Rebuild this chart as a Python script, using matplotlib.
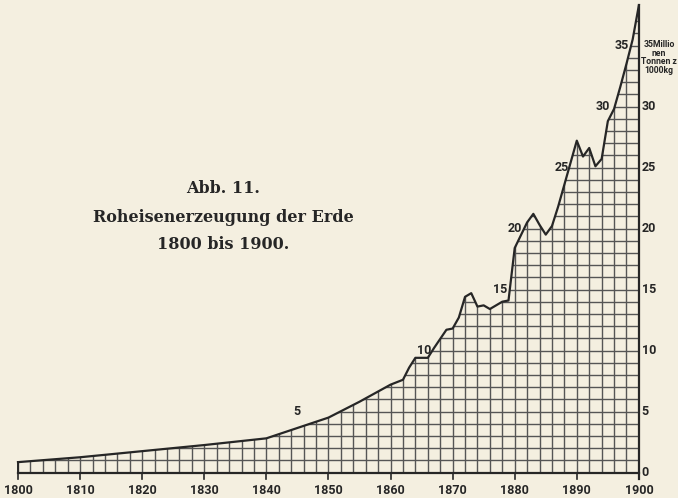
import numpy as np
import matplotlib.pyplot as plt
from matplotlib.patches import Polygon

# Roheisenerzeugung der Erde, Millionen Tonnen
years = [1800, 1810, 1820, 1830, 1840, 1850, 1855, 1860, 1862, 1863, 1864,
         1866, 1867, 1869, 1870, 1871, 1872, 1873, 1874, 1875, 1876, 1877,
         1878, 1879, 1880, 1882, 1883, 1884, 1885, 1886, 1887, 1888, 1889,
         1890, 1891, 1892, 1893, 1894, 1895, 1896, 1897, 1898, 1899, 1900]
output = [0.85, 1.25, 1.75, 2.25, 2.8, 4.5, 5.8, 7.2, 7.6, 8.6, 9.4,
          9.4, 10.2, 11.7, 11.8, 12.7, 14.4, 14.7, 13.6, 13.7, 13.4, 13.7,
          14.0, 14.1, 18.4, 20.5, 21.2, 20.3, 19.5, 20.2, 21.8, 23.6, 25.4,
          27.2, 25.9, 26.6, 25.1, 25.7, 28.8, 29.8, 31.6, 33.5, 35.5, 38.3]

decades = list(range(1800, 1901, 10))
scale_marks = [0, 5, 10, 15, 20, 25, 30]
curve_marks = [5, 10, 15, 20, 25, 30, 35]
curve_mark_years = [1845.0, 1865.5, 1877.6, 1880.0, 1887.6, 1894.2, 1897.3]
unit_note = '35Millio\nnen\nTonnen z\n1000kg'

paper = '#f4efe0'
ink = '#262626'
grid_ink = '#555555'
sans = ['Roboto', 'DejaVu Sans']

fig = plt.figure(figsize=(6.78, 4.98), dpi=100)
fig.patch.set_facecolor(paper)
ax = fig.add_axes([0, 0, 1, 1])
ax.set_facecolor(paper)
ax.set_xlim(1797.1, 1906.3)
ax.set_ylim(-2.09, 38.73)
ax.axis('off')

# area under the curve, used to clip the squared grid
outline = np.column_stack([[1800] + years + [1900], [0] + output + [0]])
area = Polygon(outline, closed=True, facecolor='none', edgecolor='none')
ax.add_patch(area)

for yr in range(1800, 1901, 2):
    ln, = ax.plot([yr, yr], [0, 45], color=grid_ink, lw=1.0)
    ln.set_clip_path(area)
for v in range(1, 45):
    ln, = ax.plot([1800, 1900], [v, v], color=grid_ink, lw=1.0)
    ln.set_clip_path(area)

ax.plot(years, output, color=ink, lw=1.6, solid_joinstyle='round')
ax.plot([1800, 1900], [0, 0], color=ink, lw=1.6)
ax.plot([1800, 1800], [0, output[0]], color=ink, lw=1.4)
ax.plot([1900, 1900], [-0.5, output[-1]], color=ink, lw=1.6)

for d in decades:
    ax.plot([d, d], [0, -0.5], color=ink, lw=1.2)
    ax.text(d, -1.45, str(d), ha='center', va='center', fontsize=9,
            fontweight='bold', family=sans, color=ink)

for v in scale_marks:
    ax.text(1900.45, v, str(v), ha='left', va='center', fontsize=9,
            fontweight='bold', family=sans, color=ink)
ax.text(1903.25, 35.45, unit_note, ha='center', va='top', fontsize=6.2,
        fontweight='bold', family=sans, color=ink, linespacing=0.95)

for v, yr in zip(curve_marks, curve_mark_years):
    ax.text(yr, v, str(v), ha='center', va='center', fontsize=9,
            fontweight='bold', family=sans, color=ink)

# caption
serif = ['DejaVu Serif']
ax.text(1833.0, 23.3, 'Abb. 11.', ha='center', va='center', fontsize=11.5,
        fontweight='bold', family=serif, color=ink)
ax.text(1833.0, 20.9, 'Roheisenerzeugung der Erde', ha='center',
        va='center', fontsize=11.5, fontweight='bold', family=serif, color=ink)
ax.text(1833.0, 18.7, '1800 bis 1900.', ha='center', va='center',
        fontsize=11.5, fontweight='bold', family=serif, color=ink)

fig.savefig('out.png', dpi=100, facecolor=paper)
